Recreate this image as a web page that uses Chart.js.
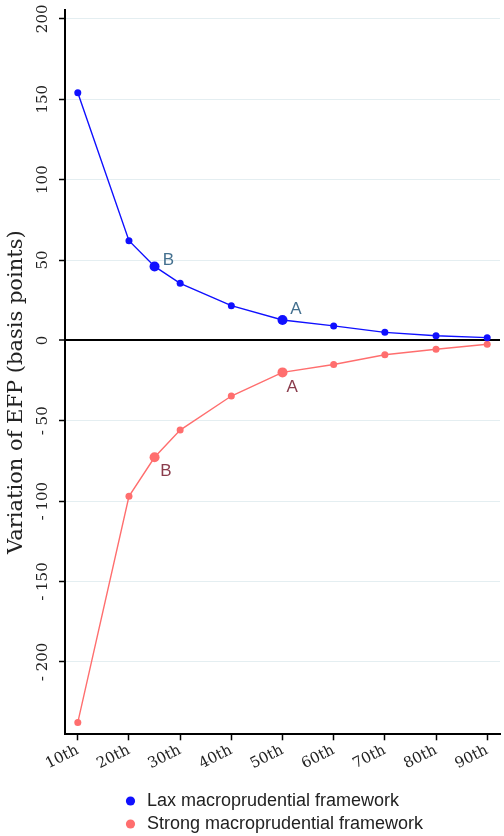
<!DOCTYPE html>
<html>
<head>
<meta charset="utf-8">
<script src="https://cdn.jsdelivr.net/npm/chart.js@4"></script>
<style>
    html, body { margin: 0; padding: 0; background: #fff; }
    #wrap { width: 504px; height: 836px; position: relative; }
</style>
</head>
<body>
<div id="wrap"><canvas id="efpChart"></canvas></div>
<script>
// percentiles of the distribution, 25th and 50th are the labelled B / A points
const percentiles = [10, 20, 25, 30, 40, 50, 60, 70, 80, 90];
const laxValues = [154, 62, 46, 35.5, 21.6, 12.7, 9, 5, 2.9, 1.7];
const strongValues = [-237.6, -97, -72.7, -55.8, -34.6, -19.9, -15, -8.9, -5.5, -2.4];
const highlighted = [25, 50];

const xTicks = [10, 20, 30, 40, 50, 60, 70, 80, 90];
const yTicks = [-200, -150, -100, -50, 0, 50, 100, 150, 200];

const noteText = ['B', 'A', 'A', 'B'];
const noteX = [27.7, 52.6, 51.9, 27.2];
const noteY = [50, 19.5, -29, -81.5];
const noteSeries = ['lax', 'lax', 'strong', 'strong'];

const LAX = '#1010ff';
const STRONG = '#ff6e6e';
const SERIF = '"DejaVu Serif", serif';
const SANS = '"Liberation Sans", Arial, sans-serif';

function toPoints(values) {
    return percentiles.map((p, i) => ({ x: p, y: values[i] }));
}

function radii() {
    return percentiles.map((p) => (highlighted.includes(p) ? 5 : 3.5));
}

function yLabel(value) {
    return value < 0 ? `- ${Math.abs(value)}` : String(value);
}

// draws the A / B annotations at their data positions
const notesPlugin = {
    id: 'notes',
    afterDatasetsDraw(chart) {
        const { ctx, scales } = chart;
        ctx.save();
        ctx.font = `17px ${SANS}`;
        ctx.textAlign = 'center';
        ctx.textBaseline = 'middle';
        noteText.forEach((text, i) => {
            ctx.fillStyle = noteSeries[i] === 'lax' ? '#44708f' : '#8a3c4c';
            ctx.fillText(text, scales.x.getPixelForValue(noteX[i]), scales.y.getPixelForValue(noteY[i]));
        });
        ctx.restore();
    },
};

// legend rows sit left-aligned under the plot, not centred on the canvas
const legendShift = {
    id: 'legendShift',
    afterLayout(chart) {
        const legend = chart.legend;
        const width = legend.right - legend.left;
        legend.left = 118;
        legend.right = 118 + width;
    },
};

new Chart(document.getElementById('efpChart'), {
    type: 'line',
    data: {
        datasets: [
            {
                label: 'Lax macroprudential framework',
                data: toPoints(laxValues),
                borderColor: LAX,
                backgroundColor: LAX,
                pointBackgroundColor: LAX,
                pointBorderWidth: 0,
                pointRadius: radii(),
                borderWidth: 1.4,
                tension: 0,
            },
            {
                label: 'Strong macroprudential framework',
                data: toPoints(strongValues),
                borderColor: STRONG,
                backgroundColor: STRONG,
                pointBackgroundColor: STRONG,
                pointBorderWidth: 0,
                pointRadius: radii(),
                borderWidth: 1.4,
                tension: 0,
            },
        ],
    },
    plugins: [notesPlugin, legendShift],
    options: {
        responsive: true,
        maintainAspectRatio: false,
        animation: false,
        layout: { padding: { top: 10, right: 1, bottom: -7, left: 0 } },
        plugins: {
            legend: {
                position: 'bottom',
                align: 'start',
                labels: {
                    usePointStyle: true,
                    pointStyle: 'circle',
                    boxWidth: 15,
                    boxHeight: 6.5,
                    padding: 5,
                    color: '#222',
                    font: { family: SANS, size: 18 },
                },
            },
            tooltip: { enabled: false },
        },
        scales: {
            x: {
                type: 'linear',
                min: 7.5,
                max: 92.5,
                afterBuildTicks: (scale) => { scale.ticks = xTicks.map((value) => ({ value })); },
                afterFit: (scale) => { scale.height = 52.7; },
                border: { color: '#000', width: 2 },
                grid: { drawOnChartArea: false, drawTicks: true, tickLength: 6, tickColor: '#000', tickWidth: 1.5 },
                ticks: {
                    minRotation: 27,
                    maxRotation: 27,
                    padding: 1,
                    color: '#222',
                    font: { family: SERIF, size: 15 },
                    callback: (value) => `${value}th`,
                },
            },
            y: {
                min: -245,
                max: 205.5,
                afterBuildTicks: (scale) => { scale.ticks = yTicks.map((value) => ({ value })); },
                afterFit: (scale) => { scale.width = 65; },
                border: { color: '#000', width: 2 },
                grid: {
                    color: (ctx) => (ctx.tick && ctx.tick.value === 0 ? '#000' : '#e4eef1'),
                    lineWidth: (ctx) => (ctx.tick && ctx.tick.value === 0 ? 2 : 1),
                    tickLength: 6,
                    tickColor: '#000',
                    tickWidth: 1.5,
                },
                ticks: {
                    minRotation: 90,
                    maxRotation: 90,
                    crossAlign: 'center',
                    padding: -3,
                    color: '#222',
                    font: { family: SERIF, size: 15 },
                    callback: yLabel,
                },
                title: {
                    display: true,
                    // trailing spaces push the centred title a little down, as in the original
                    text: 'Variation of EFP (basis points)      ',
                    color: '#222',
                    padding: { top: 4, bottom: 0 },
                    font: { family: SERIF, size: 21 },
                },
            },
        },
    },
});
</script>
</body>
</html>
